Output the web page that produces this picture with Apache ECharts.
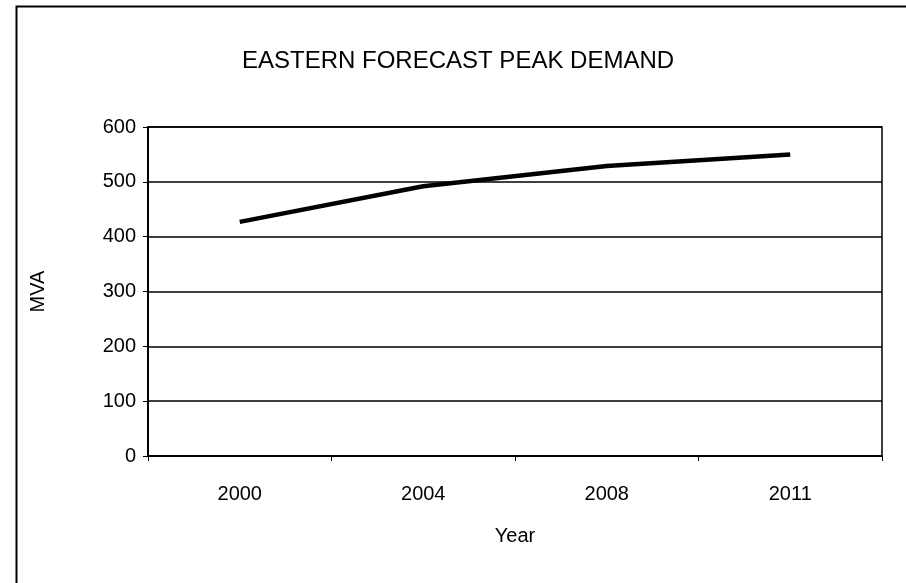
<!DOCTYPE html>
<html>
<head>
<meta charset="utf-8">
<style>
  html, body { margin: 0; padding: 0; background: #fff; }
  #chart { width: 906px; height: 583px; }
</style>
<script src="https://cdn.jsdelivr.net/npm/echarts@6/dist/echarts.min.js"></script>
</head>
<body>
<div id="chart"></div>
<script>
// Forecast peak demand, eastern area (MVA)
const years = ['2000', '2004', '2008', '2011'];
const peakDemand = [427, 492, 529, 550];
const yTicks = [0, 100, 200, 300, 400, 500, 600];

const FONT = '"Liberation Sans", Arial, sans-serif';

const chart = echarts.init(document.getElementById('chart'), null, { renderer: 'canvas' });

chart.setOption({
  animation: false,
  backgroundColor: '#ffffff',
  title: {
    text: 'EASTERN FORECAST PEAK DEMAND',
    left: 237,
    top: 44,
    textStyle: { fontFamily: FONT, fontSize: 24, fontWeight: 'normal', color: '#000' }
  },
  graphic: [
    {
      type: 'polyline',
      shape: { points: [[16.5, 583], [16.5, 6.5], [906, 6.5]] },
      style: { stroke: '#000', lineWidth: 2, fill: null }
    }
  ],
  grid: {
    left: 148, top: 127, width: 734, height: 329,
    show: true, borderColor: '#000', borderWidth: 1.5, backgroundColor: 'transparent'
  },
  xAxis: {
    type: 'category',
    data: years,
    boundaryGap: true,
    name: 'Year',
    nameLocation: 'middle',
    nameGap: 70,
    nameTextStyle: { fontFamily: FONT, fontSize: 20, color: '#000' },
    axisLine: { show: true, lineStyle: { color: '#000', width: 2 } },
    axisTick: { show: true, alignWithLabel: false, length: 5, lineStyle: { color: '#000', width: 1 } },
    axisLabel: { fontFamily: FONT, fontSize: 20, color: '#000', margin: 28 },
    splitLine: { show: false }
  },
  yAxis: {
    type: 'value',
    min: yTicks[0],
    max: yTicks[yTicks.length - 1],
    interval: yTicks[1] - yTicks[0],
    name: 'MVA',
    nameLocation: 'middle',
    nameGap: 100,
    nameRotate: 90,
    nameTextStyle: { fontFamily: FONT, fontSize: 20, color: '#000' },
    axisLine: { show: true, lineStyle: { color: '#000', width: 2 } },
    axisTick: { show: true, length: 5, lineStyle: { color: '#000', width: 1 } },
    axisLabel: { fontFamily: FONT, fontSize: 20, color: '#000', margin: 12 },
    splitLine: { show: true, lineStyle: { color: '#000', width: 1.5 } }
  },
  series: [
    {
      type: 'line',
      data: peakDemand,
      symbol: 'none',
      lineStyle: { color: '#000', width: 4.5 },
      z: 5
    }
  ]
});
</script>
</body>
</html>
